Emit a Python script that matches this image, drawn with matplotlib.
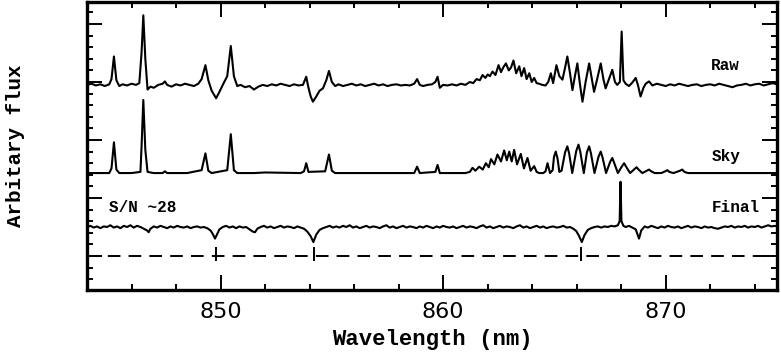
import matplotlib
matplotlib.use("Agg")
import matplotlib.pyplot as plt
from matplotlib.ticker import MultipleLocator, NullFormatter

# Spectra, flux relative to each trace's own continuum.
raw_wl = [
    844.0, 844.2, 844.4, 844.6, 844.8, 845.0, 845.1, 845.21, 845.32, 845.45,
    845.6, 845.8, 846.0, 846.2, 846.35, 846.45, 846.53, 846.62, 846.72, 846.85,
    847.0, 847.2, 847.4, 847.5, 847.6, 847.8, 848.0, 848.2, 848.4, 848.6,
    848.8, 849.0, 849.15, 849.32, 849.45, 849.6, 849.8, 849.95, 850.1, 850.3,
    850.46, 850.6, 850.75, 850.9, 851.1, 851.3, 851.5, 851.7, 851.9, 852.1,
    852.3, 852.5, 852.7, 852.9, 853.1, 853.3, 853.5, 853.7, 853.85, 853.95,
    854.05, 854.15, 854.3, 854.45, 854.6, 854.75, 854.87, 855.0, 855.15, 855.3,
    855.5, 855.7, 855.9, 856.1, 856.3, 856.5, 856.7, 856.9, 857.1, 857.3,
    857.5, 857.7, 857.9, 858.1, 858.3, 858.5, 858.7, 858.83, 858.95, 859.1,
    859.3, 859.5, 859.65, 859.75, 859.85, 860.0, 860.2, 860.4, 860.6, 860.8,
    861.0, 861.2, 861.35, 861.5, 861.65, 861.77, 861.9, 862.0, 862.1, 862.22,
    862.35, 862.49, 862.6, 862.7, 862.82, 862.95, 863.05, 863.16, 863.28, 863.42,
    863.52, 863.64, 863.75, 863.87, 863.98, 864.09, 864.2, 864.31, 864.45, 864.6,
    864.72, 864.84, 864.94, 865.09, 865.22, 865.36, 865.48, 865.58, 865.7, 865.81,
    865.92, 866.03, 866.15, 866.26, 866.4, 866.56, 866.68, 866.78, 866.92, 867.08,
    867.2, 867.3, 867.45, 867.6, 867.72, 867.82, 867.94, 868.02, 868.1, 868.2,
    868.35, 868.5, 868.65, 868.75, 868.87, 869.0, 869.1, 869.25, 869.4, 869.6,
    869.8, 870.0, 870.2, 870.4, 870.6, 870.8, 871.0, 871.2, 871.4, 871.6,
    871.8, 872.0, 872.2, 872.4, 872.6, 872.8, 873.0, 873.2, 873.4, 873.6,
    873.8, 874.0, 874.2, 874.4, 874.6, 874.8, 875.0,
]
raw_flux = [
    0.00, 0.02, -0.01, 0.01, -0.02, 0.01, 0.10, 0.49, 0.08, -0.02,
    0.01, -0.01, 0.02, 0.00, 0.03, 0.55, 1.20, 0.45, -0.08, -0.03,
    -0.05, 0.00, 0.02, 0.06, 0.00, -0.03, 0.01, -0.01, 0.02, 0.00,
    -0.02, 0.02, 0.10, 0.34, 0.08, -0.10, -0.23, -0.12, 0.00, 0.15,
    0.67, 0.15, -0.02, 0.00, -0.04, -0.02, -0.08, -0.03, 0.00, -0.02,
    0.01, -0.01, 0.02, 0.00, -0.02, 0.01, -0.01, 0.00, 0.14, -0.05,
    -0.20, -0.29, -0.20, -0.10, -0.06, 0.08, 0.24, 0.05, -0.02, 0.01,
    -0.02, 0.00, 0.02, -0.01, 0.01, -0.02, 0.00, 0.02, -0.01, 0.01,
    -0.02, 0.00, 0.01, -0.01, 0.00, -0.01, 0.02, 0.10, 0.00, -0.02,
    0.00, 0.01, 0.05, 0.14, -0.05, 0.00, -0.01, 0.01, -0.01, 0.02,
    0.00, 0.05, 0.03, 0.10, 0.08, 0.17, 0.12, 0.18, 0.15, 0.23,
    0.17, 0.34, 0.22, 0.30, 0.37, 0.25, 0.30, 0.42, 0.20, 0.32,
    0.15, 0.29, 0.10, 0.20, 0.05, 0.12, 0.03, 0.02, 0.00, -0.01,
    0.05, 0.20, 0.03, 0.34, 0.15, 0.09, 0.30, 0.49, 0.20, -0.09,
    0.15, 0.37, 0.00, -0.29, 0.05, 0.37, 0.10, -0.12, 0.10, 0.37,
    0.10, -0.06, 0.10, 0.26, 0.05, 0.00, 0.05, 0.92, 0.08, 0.02,
    -0.02, 0.04, 0.12, 0.00, -0.20, -0.05, 0.02, 0.06, -0.01, 0.02,
    0.00, -0.02, 0.01, -0.01, 0.02, 0.00, -0.02, 0.00, 0.01, -0.02,
    0.00, 0.01, -0.01, 0.02, 0.00, -0.02, -0.04, -0.01, 0.00, 0.02,
    -0.01, 0.01, 0.02, -0.01, 0.01, 0.03, 0.01,
]

sky_wl = [
    844.0, 844.5, 845.0, 845.1, 845.21, 845.32, 845.45, 846.0, 846.4, 846.45,
    846.53, 846.62, 846.72, 847.0, 847.4, 847.5, 847.6, 848.5, 849.15, 849.32,
    849.45, 849.6, 850.3, 850.46, 850.6, 850.75, 851.5, 852.0, 853.6, 853.75,
    853.85, 853.95, 854.7, 854.87, 855.0, 855.15, 856.0, 858.7, 858.83, 858.95,
    859.65, 859.75, 859.85, 861.0, 861.2, 861.32, 861.45, 861.62, 861.78, 861.92,
    862.05, 862.15, 862.3, 862.44, 862.6, 862.74, 862.86, 862.97, 863.08, 863.19,
    863.32, 863.49, 863.63, 863.79, 863.93, 864.09, 864.2, 864.31, 864.5, 864.6,
    864.69, 864.8, 864.92, 864.98, 865.06, 865.14, 865.22, 865.32, 865.48, 865.58,
    865.66, 865.8, 865.98, 866.08, 866.16, 866.32, 866.46, 866.56, 866.64, 866.8,
    866.98, 867.08, 867.16, 867.32, 867.5, 867.6, 867.68, 867.85, 868.04, 868.13,
    868.22, 868.4, 868.6, 868.69, 868.78, 868.95, 869.15, 869.25, 869.35, 869.5,
    869.8, 869.98, 870.07, 870.16, 870.35, 870.64, 870.74, 870.84, 871.0, 872.5,
    875.0,
]
sky_flux = [
    0.00, 0.00, 0.00, 0.08, 0.53, 0.06, 0.00, 0.00, 0.02, 0.45,
    1.26, 0.40, 0.02, 0.00, 0.00, 0.03, 0.00, 0.00, 0.05, 0.34,
    0.04, 0.00, 0.05, 0.67, 0.05, 0.00, 0.00, 0.01, 0.00, 0.03,
    0.17, 0.02, 0.03, 0.32, 0.04, 0.00, 0.00, 0.00, 0.11, 0.00,
    0.02, 0.14, 0.00, 0.00, 0.02, 0.09, 0.04, 0.11, 0.06, 0.17,
    0.10, 0.24, 0.15, 0.32, 0.20, 0.39, 0.22, 0.37, 0.20, 0.40,
    0.15, 0.33, 0.08, 0.26, 0.04, 0.12, 0.02, 0.00, 0.00, 0.03,
    0.17, 0.00, 0.05, 0.28, 0.37, 0.25, 0.02, 0.04, 0.36, 0.46,
    0.34, 0.00, 0.38, 0.49, 0.37, 0.00, 0.36, 0.46, 0.34, 0.00,
    0.28, 0.37, 0.27, 0.00, 0.19, 0.26, 0.18, 0.00, 0.12, 0.17,
    0.11, 0.00, 0.07, 0.10, 0.06, 0.00, 0.04, 0.06, 0.03, 0.00,
    0.00, 0.03, 0.05, 0.02, 0.00, 0.04, 0.06, 0.02, 0.00, 0.00,
    0.00,
]

final_wl = [
    844.0, 844.15, 844.3, 844.45, 844.6, 844.75, 844.9, 845.05, 845.2, 845.35,
    845.5, 845.65, 845.8, 845.95, 846.1, 846.25, 846.4, 846.55, 846.7, 846.77,
    846.85, 847.0, 847.15, 847.3, 847.45, 847.6, 847.75, 847.9, 848.05, 848.2,
    848.35, 848.5, 848.65, 848.8, 848.95, 849.1, 849.25, 849.4, 849.55, 849.65,
    849.75, 849.85, 849.95, 850.1, 850.25, 850.4, 850.55, 850.7, 850.85, 851.0,
    851.15, 851.3, 851.45, 851.55, 851.65, 851.8, 851.95, 852.1, 852.25, 852.4,
    852.55, 852.7, 852.85, 853.0, 853.15, 853.3, 853.45, 853.6, 853.75, 853.9,
    854.05, 854.17, 854.3, 854.45, 854.6, 854.75, 854.9, 855.05, 855.2, 855.35,
    855.5, 855.65, 855.8, 855.95, 856.1, 856.25, 856.4, 856.55, 856.7, 856.85,
    857.0, 857.15, 857.3, 857.45, 857.6, 857.75, 857.9, 858.05, 858.2, 858.35,
    858.5, 858.65, 858.8, 858.95, 859.1, 859.25, 859.4, 859.55, 859.7, 859.85,
    860.0, 860.15, 860.3, 860.45, 860.6, 860.75, 860.9, 861.05, 861.2, 861.35,
    861.5, 861.65, 861.8, 861.95, 862.1, 862.25, 862.4, 862.55, 862.7, 862.85,
    863.0, 863.15, 863.3, 863.45, 863.6, 863.75, 863.9, 864.05, 864.2, 864.35,
    864.5, 864.65, 864.8, 864.95, 865.1, 865.25, 865.4, 865.55, 865.7, 865.85,
    865.98, 866.1, 866.23, 866.35, 866.5, 866.65, 866.8, 866.95, 867.1, 867.25,
    867.4, 867.55, 867.7, 867.85, 867.93, 867.97, 868.01, 868.1, 868.2, 868.35,
    868.5, 868.65, 868.8, 868.9, 869.05, 869.2, 869.35, 869.5, 869.65, 869.8,
    869.95, 870.1, 870.25, 870.4, 870.55, 870.7, 870.85, 871.0, 871.15, 871.3,
    871.45, 871.6, 871.75, 871.9, 872.05, 872.2, 872.35, 872.5, 872.65, 872.8,
    872.95, 873.1, 873.25, 873.4, 873.55, 873.7, 873.85, 874.0, 874.15, 874.3,
    874.45, 874.6, 874.75, 874.9, 875.0,
]
final_flux = [
    0.00, 0.02, -0.01, 0.01, -0.02, 0.01, 0.00, 0.03, -0.01, 0.01,
    -0.02, 0.02, 0.00, 0.03, -0.01, 0.02, 0.00, -0.03, -0.06, -0.09,
    -0.03, 0.01, -0.01, 0.02, 0.00, -0.02, 0.01, -0.01, 0.02, 0.00,
    -0.01, 0.01, -0.02, 0.00, 0.01, -0.01, 0.00, -0.02, -0.06, -0.12,
    -0.20, -0.12, -0.04, 0.00, 0.02, -0.01, 0.01, -0.02, 0.01, -0.01,
    0.00, -0.04, -0.08, -0.09, -0.03, 0.00, 0.02, -0.01, 0.01, -0.02,
    0.00, 0.02, -0.01, 0.01, 0.00, -0.02, 0.01, -0.01, -0.03, -0.08,
    -0.16, -0.26, -0.13, -0.05, -0.02, 0.00, 0.02, -0.01, 0.01, -0.01,
    0.02, 0.00, 0.03, -0.01, 0.01, -0.02, 0.00, 0.02, -0.01, 0.01,
    0.00, -0.02, 0.01, 0.03, -0.01, 0.01, -0.02, 0.00, 0.02, -0.01,
    0.01, 0.00, -0.02, 0.01, -0.01, 0.02, 0.00, -0.02, 0.01, -0.01,
    0.02, 0.00, -0.01, 0.01, -0.02, 0.00, 0.02, -0.01, 0.01, 0.00,
    -0.02, 0.01, 0.03, -0.01, 0.01, -0.02, 0.00, 0.02, -0.01, 0.01,
    0.00, -0.02, 0.01, 0.03, -0.01, 0.01, -0.02, 0.00, 0.02, -0.01,
    0.01, -0.02, 0.00, 0.01, -0.01, 0.00, 0.02, -0.01, 0.00, -0.03,
    -0.07, -0.15, -0.26, -0.14, -0.05, -0.02, 0.00, 0.01, -0.01, 0.01,
    0.00, 0.02, 0.01, 0.03, 0.10, 0.78, 0.10, 0.02, 0.00, 0.02,
    -0.01, -0.04, -0.20, -0.06, 0.01, -0.01, 0.02, 0.00, -0.02, 0.01,
    -0.01, 0.02, 0.00, -0.01, 0.01, -0.02, 0.00, 0.02, -0.01, 0.01,
    0.00, -0.02, 0.01, -0.01, 0.00, -0.02, -0.03, -0.01, 0.01, 0.00,
    0.02, -0.01, 0.01, 0.00, 0.02, -0.01, 0.01, 0.00, 0.02, -0.01,
    0.01, 0.03, 0.01, 0.02, 0.01,
]

# Ca II triplet rest positions marked on the zero line
ca_lines = [849.8, 854.2, 866.2]

RAW_OFFSET = 2.95
SKY_OFFSET = 1.43
FINAL_OFFSET = 0.5

LABEL_FONT = "Liberation Mono"

fig = plt.figure(figsize=(7.81, 3.56), dpi=100)
ax = fig.add_axes([0.1114, 0.1854, 0.8835, 0.8090])

ax.plot(raw_wl, [f + RAW_OFFSET for f in raw_flux], color="black", lw=1.5)
ax.plot(sky_wl, [f + SKY_OFFSET for f in sky_flux], color="black", lw=1.5)
ax.plot(final_wl, [f + FINAL_OFFSET for f in final_flux], color="black", lw=1.5)

ax.axhline(0, color="black", lw=1.4, linestyle=(0, (6.5, 4.2)))
ax.vlines(ca_lines, -0.08, 0.15, color="black", lw=1.4)

txt = dict(fontfamily=LABEL_FONT, fontweight="bold", fontsize=11.5,
           va="center", ha="left")
ax.text(872.05, 3.29, "Raw", **txt)
ax.text(872.05, 1.72, "Sky", **txt)
ax.text(872.05, 0.83, "Final", **txt)
ax.text(845.0, 0.84, "S/N ~28", **txt)

ax.set_xlim(844, 875)
ax.set_ylim(-0.586, 4.379)
ax.xaxis.set_major_locator(MultipleLocator(10))
ax.xaxis.set_minor_locator(MultipleLocator(2))
ax.yaxis.set_major_locator(MultipleLocator(1))
ax.yaxis.set_minor_locator(MultipleLocator(0.2))
ax.yaxis.set_major_formatter(NullFormatter())

ax.tick_params(which="both", direction="in", top=True, right=True,
               width=1.4, labelsize=16, pad=9)
ax.tick_params(which="major", length=10.5)
ax.tick_params(which="minor", length=4.5)
for lab in ax.get_xticklabels():
    lab.set_fontfamily("DejaVu Sans")
for sp in ax.spines.values():
    sp.set_linewidth(2.4)

ax.set_xlabel("Wavelength (nm)", fontfamily=LABEL_FONT, fontweight="bold",
              fontsize=16, labelpad=5)
ax.set_ylabel("Arbitary flux", fontfamily=LABEL_FONT, fontweight="bold",
              fontsize=15, labelpad=36)

fig.savefig("out.png", dpi=100)
